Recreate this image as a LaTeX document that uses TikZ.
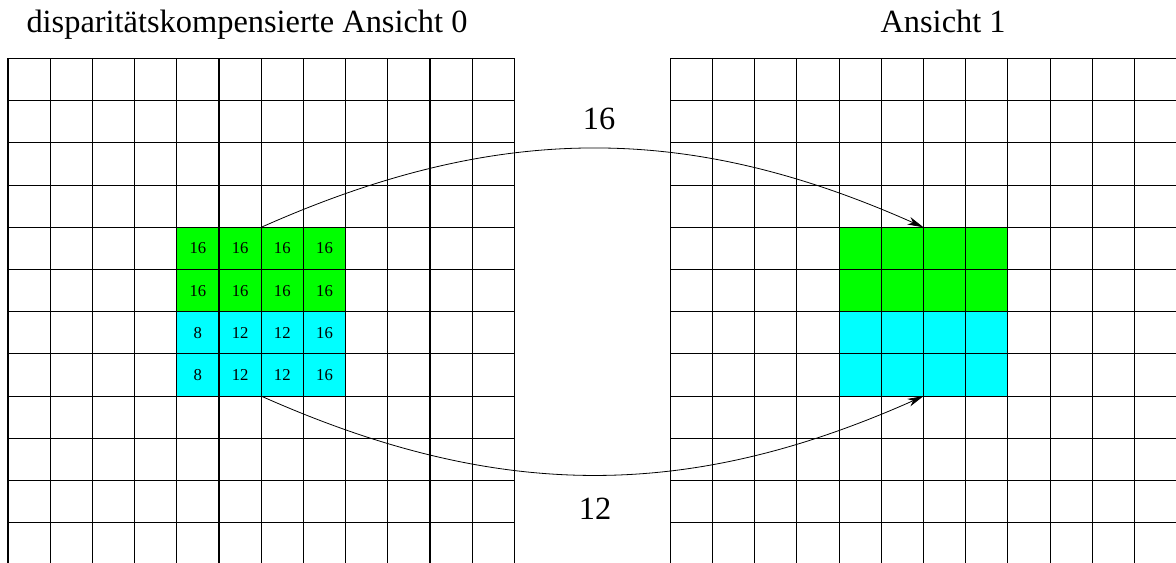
\documentclass[tikz,border=0pt]{standalone}
\usepackage{fontspec}
\setmainfont{Liberation Serif}
\usetikzlibrary{arrows.meta, positioning}
\definecolor{blockgreen}{RGB}{0,255,0}
\definecolor{blockcyan}{RGB}{0,255,255}

\begin{document}
\begin{tikzpicture}[x=0.75pt, y=-0.75pt, line width=0.8pt,
  cellnum/.style={inner sep=0pt, font=\fontsize{12.5}{14}\selectfont},
  caption/.style={inner sep=0pt, font=\fontsize{24.3}{28}\selectfont},
  flow/.style={-{Stealth[length=12pt, width=6pt, inset=3.5pt]}, line width=0.6pt}]
  \useasboundingbox (0,0) rectangle (1176,563);

  % Coloured blocks (view 0)
  \fill[blockgreen] (176.8,227.3) rectangle (345.6,311.7);
  \fill[blockcyan] (176.8,311.7) rectangle (345.6,396.1);
  % Coloured blocks (view 1)
  \fill[blockgreen] (839.1,227.3) rectangle (1007.9,311.7);
  \fill[blockcyan] (839.1,311.7) rectangle (1007.9,396.1);

  % Grid view 0
  \foreach \i in {0,...,12} {
    \draw (8+\i*42.2, 58.5) -- (8+\i*42.2, 563);
  }
  \foreach \j in {0,...,11} {
    \draw (8, 58.5+\j*42.2) -- (514.4, 58.5+\j*42.2);
  }

  % Grid view 1
  \foreach \i in {0,...,11} {
    \draw (670.3+\i*42.2, 58.5) -- (670.3+\i*42.2, 563);
  }
  \foreach \j in {0,...,11} {
    \draw (670.3, 58.5+\j*42.2) -- (1176, 58.5+\j*42.2);
  }

  % Disparity values
  \foreach \r/\a/\b/\c/\d in {4/16/16/16/16, 5/16/16/16/16, 6/8/12/12/16, 7/8/12/12/16} {
    \foreach \col/\v in {4/\a, 5/\b, 6/\c, 7/\d} {
      \node[cellnum] (n\r\col) at (8+\col*42.2+21.1, 58.5+\r*42.2+21.1) {\v};
    }
  }

  % Titles
  \node[caption, anchor=base west] (title0) at (26,33) {disparitätskompensierte Ansicht 0};
  \node[caption, anchor=base west] (title1) at (880,33) {Ansicht 1};

  % Mapping arrows
  \coordinate (srcTop) at (261.2,227.3);
  \coordinate (dstTop) at (923.5,227.3);
  \coordinate (srcBot) at (261.2,396.1);
  \coordinate (dstBot) at (923.5,396.1);
  \draw[flow] (srcTop) to[bend left=24] (dstTop);
  \draw[flow] (srcBot) to[bend right=24] (dstBot);
  \node[caption] (lblTop) at (599,119) {16};
  \node[caption] (lblBot) at (595,508.5) {12};
\end{tikzpicture}
\end{document}
